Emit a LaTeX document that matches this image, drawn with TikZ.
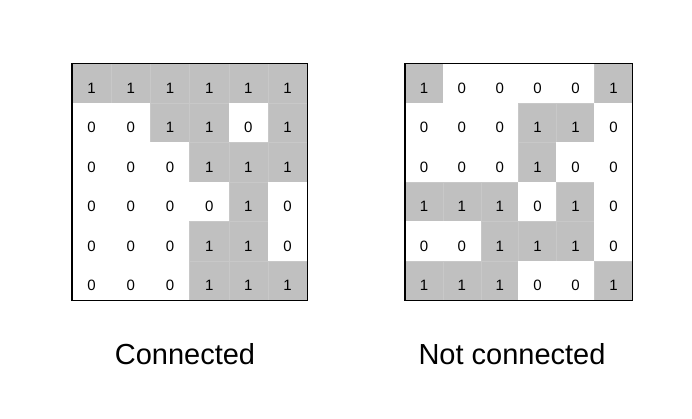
\documentclass[tikz,border=0pt]{standalone}
\usepackage{fontspec}
\setmainfont{Liberation Sans}
\definecolor{cellgray}{RGB}{192,192,192}
\definecolor{cellline}{RGB}{200,200,200}
\tikzset{
  cell/.style={minimum width=#1, minimum height=39.5pt, inner sep=0pt, outer sep=0pt, text height=20pt, text depth=0pt, font=\fontsize{15}{18}\selectfont},
  frame/.style={draw=black, line width=1.4pt},
  caption/.style={font=\fontsize{29}{34}\selectfont, anchor=base, inner sep=0pt}
}
\begin{document}
\begin{tikzpicture}[x=1pt,y=-1pt]
\useasboundingbox (0,0) rectangle (692,419);
% left grid
\foreach \row [count=\i] in {{1,1,1,1,1,1},{0,0,1,1,0,1},{0,0,0,1,1,1},{0,0,0,0,1,0},{0,0,0,1,1,0},{0,0,0,1,1,1}} {
  \foreach \v [count=\j] in \row {
    \ifnum\v=1 \def\fc{cellgray}\def\dc{cellline}\else\def\fc{white}\def\dc{white}\fi
    \node[cell=39.2pt, fill=\fc, draw=\dc, line width=0.5pt] (L-\i-\j) at ({72+39.2*(\j-0.5)},{63.3+39.5*(\i-0.5)}) {\v};
  }
}
\draw[frame] (L-1-1.north west) rectangle (L-6-6.south east);
% right grid
\foreach \row [count=\i] in {{1,0,0,0,0,1},{0,0,0,1,1,0},{0,0,0,1,0,0},{1,1,1,0,1,0},{0,0,1,1,1,0},{1,1,1,0,0,1}} {
  \foreach \v [count=\j] in \row {
    \ifnum\v=1 \def\fc{cellgray}\def\dc{cellline}\else\def\fc{white}\def\dc{white}\fi
    \node[cell=37.9pt, fill=\fc, draw=\dc, line width=0.5pt] (R-\i-\j) at ({405+37.9*(\j-0.5)},{63.3+39.5*(\i-0.5)}) {\v};
  }
}
\draw[frame] (R-1-1.north west) rectangle (R-6-6.south east);
\node[caption] (capL) at (185,364) {Connected};
\node[caption] (capR) at (512,364) {Not connected};
\end{tikzpicture}
\end{document}
